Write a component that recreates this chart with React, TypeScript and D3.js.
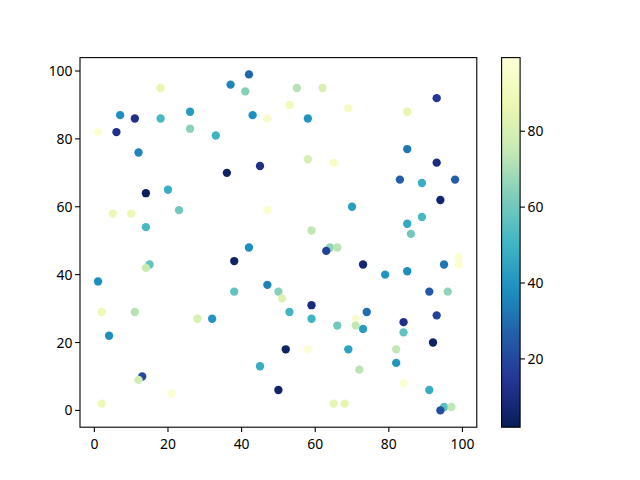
import React from "react";
import * as d3 from "d3";

const xs = [18, 7, 11, 18, 26, 26, 33, 1, 6, 12, 14, 20, 5, 10, 23, 14, 42, 37, 41, 55, 62, 53, 69, 43, 47, 58, 45, 36, 58, 65, 47, 70, 59, 93, 85, 85, 93, 83, 89, 98, 94, 89, 85, 86, 15, 14, 1, 2, 11, 28, 32, 4, 13, 12, 21, 2, 42, 64, 66, 63, 38, 47, 38, 50, 51, 59, 53, 59, 66, 52, 58, 69, 45, 50, 65, 68, 99, 99, 95, 73, 79, 85, 91, 96, 74, 93, 71, 71, 73, 84, 84, 82, 92, 82, 72, 84, 91, 95, 97, 94];
const ys = [95, 87, 86, 86, 88, 83, 81, 82, 82, 76, 64, 65, 58, 58, 59, 54, 99, 96, 94, 95, 95, 90, 89, 87, 86, 86, 72, 70, 74, 73, 59, 60, 53, 92, 88, 77, 73, 68, 67, 68, 62, 57, 55, 52, 43, 42, 38, 29, 29, 27, 27, 22, 10, 9, 5, 2, 48, 48, 48, 47, 44, 37, 35, 35, 33, 31, 29, 27, 25, 18, 18, 18, 13, 6, 2, 2, 45, 43, 43, 43, 40, 41, 35, 35, 29, 28, 27, 25, 24, 26, 23, 18, 20, 14, 12, 8, 6, 1, 1, 0];
const cs = [86, 38, 12, 52, 42, 65, 50, 97, 12, 36, 3, 48, 88, 88, 60, 52, 28, 36, 64, 72, 80, 90, 93, 38, 95, 40, 12, 5, 80, 94, 96, 43, 74, 15, 86, 32, 10, 26, 48, 26, 7, 52, 46, 60, 57, 76, 38, 88, 72, 80, 40, 38, 20, 78, 97, 88, 38, 66, 73, 18, 5, 35, 57, 64, 82, 10, 50, 50, 60, 5, 97, 44, 48, 5, 85, 85, 97, 97, 32, 7, 40, 38, 25, 66, 30, 18, 95, 74, 42, 12, 57, 74, 5, 40, 73, 97, 48, 55, 74, 22];

const xTicks = [0, 20, 40, 60, 80, 100];
const yTicks = [0, 20, 40, 60, 80, 100];
const cTicks = [20, 40, 60, 80];

const FONT = "'Noto Sans', 'DejaVu Sans', sans-serif";
const FS = 13.9;

export default function App() {
  const left = 80, right = 476.8, top = 57.6, bottom = 427.2;
  const x = d3.scaleLinear().domain([-3.9, 103.9]).range([left, right]);
  const y = d3.scaleLinear().domain([-4.95, 103.95]).range([bottom, top]);
  const cmin = 2, cmax = 99.4;
  const ylgnbu = d3.schemeYlGnBu[9];
  const stops = d3.range(9).map((i) => cmin + (i / 8) * (cmax - cmin));
  const color = d3
    .scaleLinear<string>()
    .domain(stops)
    .range([...ylgnbu].reverse())
    .interpolate(d3.interpolateRgb)
    .clamp(true);

  const cbL = 501.6, cbR = 520.1;
  const cy = d3.scaleLinear().domain([cmin, cmax]).range([bottom, top]);
  const gradStops = d3.range(0, 1.0001, 0.02);

  const pts = xs.map((xv, i) => ({ x: xv, y: ys[i], c: cs[i] }));

  return (
    <svg
      width={640}
      height={480}
      style={{ position: "absolute", left: 0, top: 0, background: "#fff" }}
      fontFamily={FONT}
      fontSize={FS}
    >
      <defs>
        <linearGradient id="cbar" x1="0" y1="1" x2="0" y2="0">
          {gradStops.map((t, i) => (
            <stop key={i} offset={t} stopColor={color(cmin + t * (cmax - cmin))} />
          ))}
        </linearGradient>
      </defs>
      <rect x={0} y={0} width={640} height={480} fill="#fff" />
      {pts.map((p, i) => (
        <circle key={i} cx={x(p.x)} cy={y(p.y)} r={4.17} fill={color(p.c)} />
      ))}
      <rect x={left} y={top} width={right - left} height={bottom - top} fill="none" stroke="#000" strokeWidth={1.1} />
      {xTicks.map((t) => (
        <g key={"x" + t}>
          <line x1={x(t)} x2={x(t)} y1={bottom} y2={bottom + 4.9} stroke="#000" strokeWidth={1.1} />
          <text x={x(t)} y={bottom + 22} textAnchor="middle" fill="#000">{t}</text>
        </g>
      ))}
      {yTicks.map((t) => (
        <g key={"y" + t}>
          <line x1={left - 4.9} x2={left} y1={y(t)} y2={y(t)} stroke="#000" strokeWidth={1.1} />
          <text x={left - 7.5} y={y(t) + 5} textAnchor="end" fill="#000">{t}</text>
        </g>
      ))}
      <rect x={cbL} y={top} width={cbR - cbL} height={bottom - top} fill="url(#cbar)" />
      <rect x={cbL} y={top} width={cbR - cbL} height={bottom - top} fill="none" stroke="#000" strokeWidth={1.1} />
      {cTicks.map((t) => (
        <g key={"c" + t}>
          <line x1={cbR} x2={cbR + 4.9} y1={cy(t)} y2={cy(t)} stroke="#000" strokeWidth={1.1} />
          <text x={cbR + 7.5} y={cy(t) + 5} textAnchor="start" fill="#000">{t}</text>
        </g>
      ))}
    </svg>
  );
}
